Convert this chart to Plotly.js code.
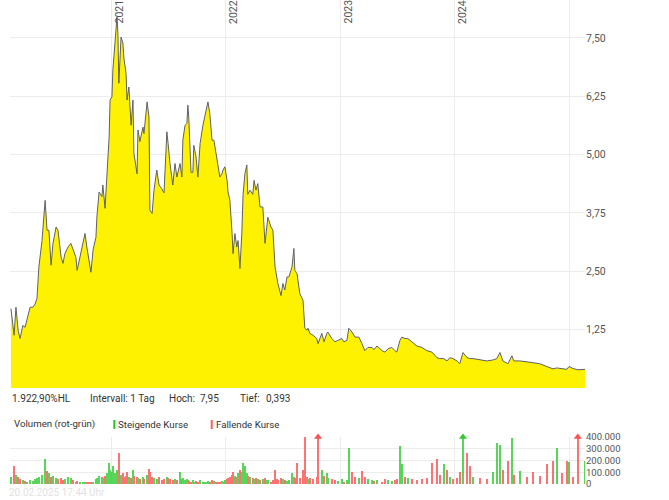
<!DOCTYPE html>
<html><head><meta charset="utf-8">
<script src="https://cdn.plot.ly/plotly-3.0.1.min.js"></script>
<style>html,body{margin:0;padding:0;background:#fff}#chart{width:669px;height:500px}</style>
</head><body><div id="chart"></div>
<script>
const dates=[
'2020-02-17','2020-02-27','2020-03-04','2020-03-11','2020-03-17','2020-03-26','2020-04-02','2020-04-08','2020-04-18','2020-04-27',
'2020-05-04','2020-05-10','2020-05-16','2020-05-26','2020-06-05','2020-06-11','2020-06-17','2020-06-24','2020-06-30','2020-07-10',
'2020-07-16','2020-07-26','2020-08-01','2020-08-07','2020-08-17','2020-08-26','2020-09-02','2020-09-11','2020-09-15','2020-09-24',
'2020-10-04','2020-10-10','2020-10-16','2020-10-23','2020-10-29','2020-11-05','2020-11-14','2020-11-17','2020-11-24','2020-12-03',
'2020-12-06','2020-12-13','2020-12-19','2020-12-26','2020-12-29','2021-01-04','2021-01-07','2021-01-14','2021-01-20','2021-01-23',
'2021-01-26','2021-02-02','2021-02-08','2021-02-11','2021-02-18','2021-02-21','2021-02-27','2021-03-06','2021-03-12','2021-03-15',
'2021-03-25','2021-03-28','2021-04-03','2021-04-13','2021-04-16','2021-04-26','2021-05-02','2021-05-05','2021-05-12','2021-05-18',
'2021-05-27','2021-06-03','2021-06-12','2021-06-19','2021-06-28','2021-07-02','2021-07-08','2021-07-17','2021-07-24','2021-07-30',
'2021-08-09','2021-08-15','2021-08-18','2021-08-25','2021-08-31','2021-09-03','2021-09-06','2021-09-13','2021-09-19','2021-09-22',
'2021-09-29','2021-10-05','2021-10-12','2021-10-21','2021-10-24','2021-10-31','2021-11-06','2021-11-12','2021-11-19','2021-11-25',
'2021-12-02','2021-12-08','2021-12-14','2021-12-21','2021-12-24','2021-12-30','2022-01-06','2022-01-09','2022-01-15','2022-01-22',
'2022-01-25','2022-01-31','2022-02-06','2022-02-10','2022-02-16','2022-02-22','2022-02-26','2022-03-04','2022-03-10','2022-03-13',
'2022-03-20','2022-03-29','2022-04-02','2022-04-08','2022-04-14','2022-04-21','2022-04-30','2022-05-07','2022-05-13','2022-05-16',
'2022-05-26','2022-06-01','2022-06-08','2022-06-14','2022-06-17','2022-06-27','2022-07-03','2022-07-09','2022-07-16','2022-07-22',
'2022-08-01','2022-08-07','2022-08-10','2022-08-17','2022-08-26','2022-09-05','2022-09-11','2022-09-18','2022-09-21','2022-09-27',
'2022-10-07','2022-10-19','2022-10-23','2022-11-04','2022-11-11','2022-11-20','2022-11-23','2022-12-06','2022-12-16','2022-12-25',
'2023-01-07','2023-01-13','2023-01-23','2023-01-29','2023-02-08','2023-02-18','2023-03-02','2023-03-12','2023-03-21','2023-03-31',
'2023-04-13','2023-04-19','2023-04-29','2023-05-15','2023-05-24','2023-06-03','2023-06-15','2023-06-25','2023-07-01','2023-07-11',
'2023-07-17','2023-07-27','2023-08-05','2023-08-18','2023-09-03','2023-09-19','2023-10-05','2023-10-21','2023-11-06','2023-11-15',
'2023-11-28','2023-12-08','2023-12-17','2023-12-27','2024-01-09','2024-01-18','2024-01-28','2024-02-10','2024-02-19','2024-02-29',
'2024-03-22','2024-04-13','2024-05-02','2024-05-15','2024-05-25','2024-06-03','2024-06-19','2024-07-02','2024-07-08','2024-07-27',
'2024-08-19','2024-09-07','2024-09-29','2024-10-21','2024-11-10','2024-11-22','2024-12-08','2024-12-24','2024-12-31','2025-01-12',
'2025-01-28','2025-02-20'
];
const prices=[
1.70,1.13,1.73,1.23,1.06,1.34,1.30,1.45,1.73,1.73,
1.80,1.92,2.59,3.16,4.02,3.38,3.38,2.63,3.10,3.45,
3.38,2.80,2.67,2.88,3.02,3.10,2.97,2.80,2.52,2.80,
3.16,3.31,3.02,2.73,2.48,2.97,3.23,3.66,4.20,4.10,
4.35,3.85,4.59,5.38,6.17,6.24,6.82,7.46,7.95,7.60,
6.53,7.52,7.39,7.07,6.74,6.17,6.45,5.63,6.17,5.03,
4.59,5.53,5.28,5.59,5.45,6.13,5.81,3.81,3.74,4.24,
4.67,4.35,4.27,4.18,5.49,5.24,4.81,4.35,4.81,4.52,
4.81,4.52,5.31,5.63,5.67,6.06,5.78,4.62,4.62,5.20,
4.95,4.52,5.24,5.63,5.74,5.95,6.13,5.88,5.31,5.31,
5.02,4.74,4.52,4.60,4.67,4.74,4.45,4.20,4.02,3.31,
2.88,3.31,3.02,3.16,2.56,3.31,4.15,4.60,4.78,4.15,
4.24,4.15,4.45,4.24,4.38,3.88,3.88,3.10,3.52,3.66,
3.45,3.38,2.59,2.38,2.24,1.98,2.24,2.10,2.38,2.38,
2.59,2.99,2.52,2.45,2.02,1.88,1.28,1.24,1.28,1.17,
1.13,1.06,0.95,1.17,0.99,1.17,1.20,1.06,0.99,1.02,
1.06,0.99,1.02,1.28,1.20,1.09,1.09,0.95,0.80,0.87,
0.87,0.82,0.90,0.80,0.77,0.84,0.87,0.80,0.77,1.02,
1.09,1.06,1.06,0.99,0.90,0.87,0.80,0.77,0.65,0.63,
0.63,0.58,0.65,0.63,0.58,0.52,0.76,0.65,0.63,0.63,
0.60,0.58,0.60,0.63,0.76,0.58,0.52,0.69,0.58,0.58,
0.56,0.54,0.52,0.46,0.41,0.43,0.41,0.40,0.46,0.42,
0.39,0.40
];
const volumes=[
60000,150000,80000,60000,40000,30000,25000,20000,30000,25000,
40000,50000,60000,80000,210000,110000,90000,60000,70000,50000,
40000,50000,30000,40000,60000,50000,30000,20000,25000,20000,
15000,15000,20000,15000,20000,15000,40000,50000,70000,60000,
50000,70000,90000,180000,120000,100000,150000,90000,120000,100000,
265000,80000,90000,60000,70000,100000,60000,50000,120000,70000,
60000,50000,40000,60000,40000,80000,130000,100000,60000,50000,
40000,60000,30000,40000,60000,50000,40000,30000,40000,30000,
100000,40000,50000,30000,40000,30000,25000,20000,30000,20000,
25000,20000,30000,20000,15000,20000,25000,20000,30000,25000,
20000,15000,20000,25000,20000,30000,40000,50000,60000,80000,
100000,70000,60000,90000,120000,100000,180000,150000,90000,70000,
60000,50000,40000,50000,40000,30000,40000,50000,30000,30000,
20000,30000,120000,40000,30000,50000,40000,30000,25000,30000,
90000,60000,50000,180000,50000,120000,398000,60000,40000,50000,
40000,60000,520000,120000,70000,90000,50000,40000,30000,25000,
40000,20000,30000,310000,100000,60000,50000,110000,60000,40000,
30000,25000,30000,20000,40000,30000,25000,30000,40000,320000,
170000,60000,50000,40000,30000,40000,50000,180000,210000,80000,
170000,120000,60000,40000,50000,100000,530000,260000,150000,60000,
50000,40000,100000,350000,330000,120000,200000,390000,80000,110000,
60000,100000,70000,170000,200000,310000,90000,200000,190000,60000,
520000,200000
];
const yearTicks=['2021-01-01','2022-01-01','2023-01-01','2024-01-01','2025-01-01'];
const yearLabels=['2021','2022','2023','2024'];
const priceTicks=[1.25,2.5,3.75,5,6.25,7.5];
const volumeTicks=[0,100000,200000,300000,400000];
const volumeMax=400000;
const infoTexts=['1.922,90%HL','Intervall: 1 Tag','Hoch:','7,95','Tief:','0,393'];
const legendTexts=['Volumen (rot-grün)','Steigende Kurse','Fallende Kurse'];
const stampText='20.02.2025 17:44 Uhr';

const UP='#2ecc2e', DOWN='#ff5050';
const volColors=prices.map((p,i)=> (i===0 || p>=prices[i-1]) ? UP : DOWN);
const clipIdx=volumes.map((v,i)=>v>volumeMax?i:-1).filter(i=>i>=0);

const traces=[
 {type:'scatter',mode:'lines',x:dates,y:prices,xaxis:'x',yaxis:'y',
  line:{color:'#5f6166',width:1},fill:'tozeroy',fillcolor:'#fff200',hoverinfo:'skip'},
 {type:'bar',x:dates,y:volumes,xaxis:'x2',yaxis:'y2',width:6*86400000,
  marker:{color:volColors,line:{width:0}},opacity:0.8,hoverinfo:'skip'},
 {type:'scatter',mode:'markers',x:clipIdx.map(i=>dates[i]),y:clipIdx.map(()=>volumeMax),
  xaxis:'x2',yaxis:'y2',cliponaxis:false,
  marker:{symbol:'triangle-up',size:7,color:clipIdx.map(i=>volColors[i])},hoverinfo:'skip'}
];

const FONT='Roboto, "Open Sans", sans-serif';
const px=X=>(X-10)/575, py=Y=>(484-Y)/484;
const ann=[];
yearLabels.forEach((t,i)=>ann.push({x:yearTicks[i],xref:'x',y:1,yref:'paper',text:t,textangle:-90,
  xanchor:'left',yanchor:'top',showarrow:false,xshift:-1,yshift:2,font:{family:FONT,size:10.5,color:'#555'}}));
const infoX=[10,88,167,198,238,264];
infoTexts.forEach((t,i)=>ann.push({x:px(infoX[i]),xref:'paper',y:py(398),yref:'paper',text:t,
  xanchor:'left',yanchor:'middle',showarrow:false,font:{family:FONT,size:10,color:'#333'}}));
const legX=[12,116,214];
legendTexts.forEach((t,i)=>ann.push({x:px(legX[i]),xref:'paper',y:py(424),yref:'paper',text:t,
  xanchor:'left',yanchor:'middle',showarrow:false,font:{family:FONT,size:9.7,color:'#333'}}));
ann.push({x:px(7),xref:'paper',y:py(492),yref:'paper',text:stampText,xanchor:'left',yanchor:'middle',
  showarrow:false,font:{family:FONT,size:10,color:'#e2e2e2'}});

const shapes=[
 {type:'rect',xref:'paper',yref:'paper',x0:px(113.3),x1:px(115.3),y0:py(429),y1:py(420),fillcolor:'#22cc22',line:{width:0}},
 {type:'rect',xref:'paper',yref:'paper',x0:px(210.7),x1:px(212.7),y0:py(429),y1:py(420),fillcolor:'#ff5a5a',line:{width:0}}
];

const xBase={type:'date',range:['2020-02-14','2025-02-20'],tickvals:yearTicks,showticklabels:false,
  showgrid:true,gridcolor:'#ececec',gridwidth:1,zeroline:false,showline:false,ticks:'',fixedrange:true};
const layout={
 width:669,height:500,margin:{l:10,r:84,t:0,b:16},
 paper_bgcolor:'#fff',plot_bgcolor:'#fff',separators:',.',showlegend:false,
 font:{family:FONT,size:10,color:'#444'},
 xaxis:Object.assign({},xBase,{anchor:'y',domain:[0,1]}),
 xaxis2:Object.assign({},xBase,{anchor:'y2',domain:[0,1],matches:'x'}),
 yaxis:{domain:[py(388),1],range:[0,8.314],side:'right',tickvals:priceTicks,tickformat:'.2f',
   gridcolor:'#ececec',zeroline:false,showline:false,ticks:'',tickfont:{size:10.5,color:'#555'},fixedrange:true},
 yaxis2:{domain:[0,py(437)],range:[0,volumeMax],side:'right',tickvals:volumeTicks,tickformat:',d',
   gridcolor:'#ececec',zeroline:false,showline:false,ticks:'',tickfont:{size:9.5,color:'#555'},fixedrange:true},
 annotations:ann,shapes:shapes,bargap:0
};
Plotly.newPlot('chart',traces,layout,{staticPlot:true,displayModeBar:false});
</script></body></html>
